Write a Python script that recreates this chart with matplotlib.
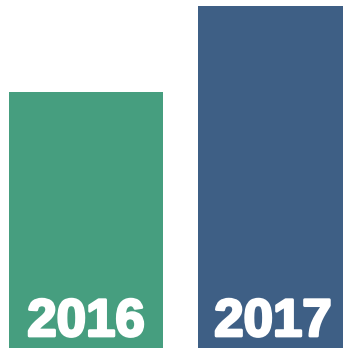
# Two year bars with the year printed inside, no axes

import matplotlib
matplotlib.use('Agg')
import matplotlib.pyplot as plt
import matplotlib.patheffects as pe

years = ['2016', '2017']
values = [256, 342]
colors = ['#469e7f', '#3e5f85']

fig = plt.figure(figsize=(3.43, 3.48), dpi=100)
ax = fig.add_axes([0, 0, 1, 1])

pos = [86, 273]
ax.bar(pos, values, width=[154, 150], color=colors)

for x, label in zip(pos, years):
    ax.text(x, 12, label, ha='center', va='baseline', color='white',
            fontsize=38, fontweight='bold', family='Liberation Sans',
            path_effects=[pe.withStroke(linewidth=2, foreground='white')])

ax.set_xlim(0, 343)
ax.set_ylim(0, 348)
ax.axis('off')

fig.savefig('out.png', dpi=100)
